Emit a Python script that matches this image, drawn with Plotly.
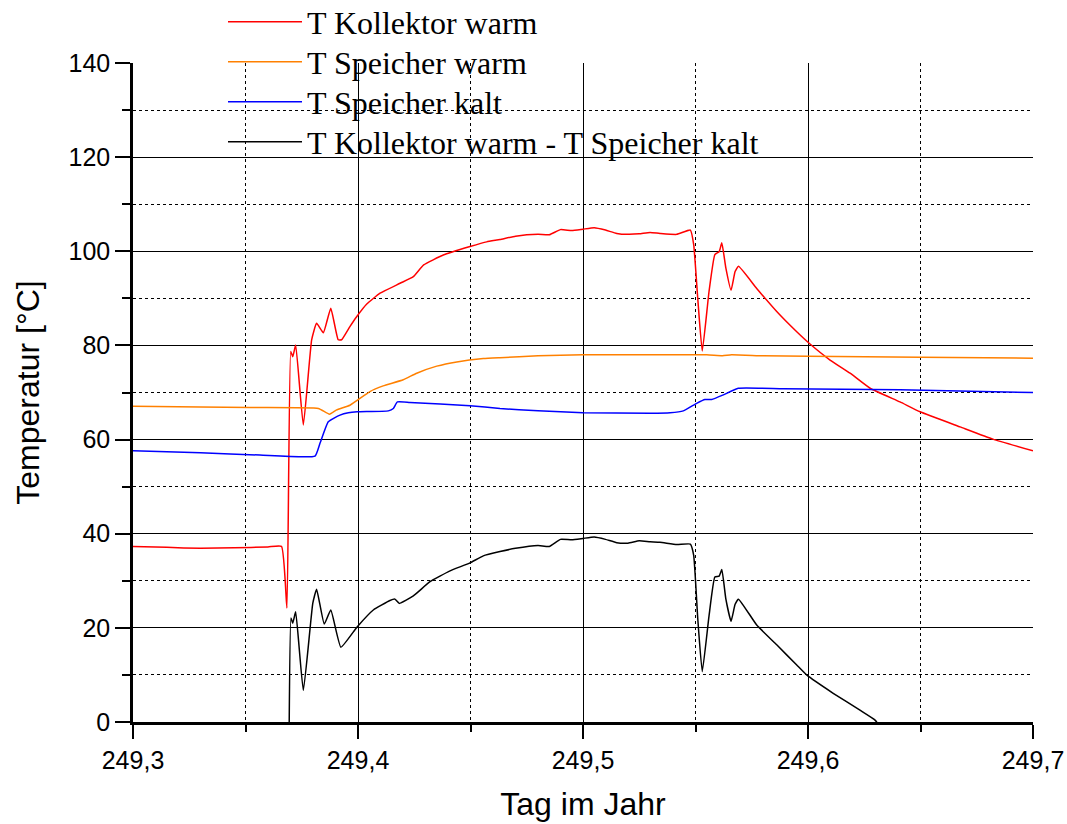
import plotly.graph_objects as go

# ---------------- data ----------------
red_x = [249.3000, 249.3150, 249.3300, 249.3450, 249.3600, 249.3660, 249.3684, 249.3701, 249.3710,
         249.3723, 249.3757, 249.3794, 249.3816, 249.3846, 249.3879, 249.3912, 249.3927, 249.3964,
         249.3994, 249.4039, 249.4098, 249.4187, 249.4246, 249.4292, 249.4379, 249.4498, 249.4572,
         249.4631, 249.4700, 249.4800, 249.4850, 249.4900, 249.4950, 249.5000, 249.5050, 249.5100,
         249.5150, 249.5200, 249.5250, 249.5298, 249.5342, 249.5417, 249.5477, 249.5492, 249.5510,
         249.5530, 249.5560, 249.5586, 249.5605, 249.5617, 249.5635, 249.5658, 249.5676, 249.5691,
         249.5772, 249.5861, 249.5950, 249.6009, 249.6098, 249.6187, 249.6276, 249.6409, 249.6498,
         249.6676, 249.6822, 249.7000]
red_y = [37.3, 37.1, 36.9, 37.0, 37.2, 37.3, 24.2, 78.7, 77.6,
         80.1, 63.1, 81.2, 84.7, 82.7, 87.9, 81.2, 81.2, 84.0,
         86.1, 88.8, 91.1, 93.2, 94.6, 97.1, 99.2, 101.0, 102.0,
         102.5, 103.2, 103.6, 103.5, 104.6, 104.4, 104.7, 105.0, 104.5,
         103.8, 103.6, 103.7, 104.0, 103.8, 103.6, 104.5, 101.4, 90.0,
         78.8, 91.4, 99.3, 99.9, 101.8, 96.4, 91.7, 95.7, 96.8,
         92.1, 87.2, 82.9, 80.3, 76.9, 74.1, 70.9, 68.0, 65.9,
         62.7, 60.1, 57.6]

orange_x = [249.3000, 249.3300, 249.3520, 249.3824, 249.3873, 249.3905, 249.3964, 249.4053, 249.4112,
            249.4201, 249.4261, 249.4350, 249.4439, 249.4557, 249.4631, 249.4800, 249.5000, 249.5300,
            249.5550, 249.5620, 249.5660, 249.5800, 249.6000, 249.6500, 249.7000]
orange_y = [67.1, 66.9, 66.8, 66.6, 65.4, 66.3, 67.3, 70.2, 71.4,
            72.7, 74.1, 75.6, 76.5, 77.2, 77.4, 77.8, 78.0, 78.0,
            78.0, 77.8, 78.0, 77.8, 77.7, 77.5, 77.3]

blue_x = [249.3000, 249.3300, 249.3564, 249.3809, 249.3831, 249.3868, 249.3920, 249.3957, 249.3996,
          249.4135, 249.4157, 249.4175, 249.4231, 249.4498, 249.4631, 249.4800, 249.5000, 249.5298,
          249.5387, 249.5446, 249.5505, 249.5542, 249.5572, 249.5624, 249.5690, 249.5890, 249.6409,
          249.7000]
blue_y = [57.6, 57.2, 56.7, 56.5, 59.2, 63.8, 65.2, 65.7, 65.9,
          66.1, 66.6, 68.0, 67.9, 67.2, 66.6, 66.1, 65.7, 65.6,
          65.7, 66.1, 67.7, 68.5, 68.5, 69.5, 70.9, 70.8, 70.6,
          70.0]

black_x = [249.3694, 249.3702, 249.3710, 249.3723, 249.3757, 249.3799, 249.3816, 249.3850, 249.3879,
           249.3924, 249.3996, 249.4068, 249.4142, 249.4164, 249.4184, 249.4246, 249.4320, 249.4409,
           249.4498, 249.4557, 249.4631, 249.4700, 249.4800, 249.4850, 249.4900, 249.4950, 249.5000,
           249.5050, 249.5100, 249.5150, 249.5200, 249.5250, 249.5298, 249.5342, 249.5417, 249.5477,
           249.5492, 249.5510, 249.5530, 249.5560, 249.5586, 249.5605, 249.5617, 249.5635, 249.5658,
           249.5676, 249.5691, 249.5772, 249.5861, 249.5950, 249.5994, 249.6112, 249.6231, 249.6298,
           249.6320]
black_y = [-2.0, 22.1, 21.0, 23.4, 6.7, 25.2, 28.2, 20.8, 23.8,
           15.9, 20.2, 23.8, 25.8, 26.1, 25.2, 26.8, 29.8, 32.1,
           33.8, 35.3, 36.2, 36.9, 37.5, 37.3, 38.8, 38.7, 39.0,
           39.3, 38.8, 38.1, 38.0, 38.5, 38.3, 38.2, 37.7, 37.8,
           35.4, 22.0, 10.7, 22.5, 30.8, 31.0, 32.4, 26.1, 21.4,
           25.0, 26.1, 20.6, 16.4, 12.1, 10.0, 6.1, 2.5, 0.4,
           -1.0]

series_names = ["T Kollektor warm", "T Speicher warm", "T Speicher kalt",
                "T Kollektor warm - T Speicher kalt"]
series_colors = ["#FF0000", "#FF8000", "#0000FF", "#000000"]

x_ticks = [249.3, 249.4, 249.5, 249.6, 249.7]
y_ticks = [0, 20, 40, 60, 80, 100, 120, 140]

# ---------------- figure ----------------
W, H = 1067, 824
ML, MR, MT, MB = 133, 34, 63, 102
plot_w = W - ML - MR
plot_h = H - MT - MB

fig = go.Figure()
all_x = [red_x, orange_x, blue_x, black_x]
all_y = [red_y, orange_y, blue_y, black_y]
legend_ids = ["legend", "legend2", "legend3", "legend4"]
for xs, ys, nm, col, lg in zip(all_x, all_y, series_names, series_colors, legend_ids):
    fig.add_trace(go.Scatter(x=xs, y=ys, mode="lines", name=nm, legend=lg,
                             line=dict(color=col, width=1.5, shape="spline", smoothing=0.4)))

def px_to_paper_x(px):
    return (px - ML) / plot_w

def px_to_paper_y(py):
    return (H - MB - py) / plot_h

legend_rows_px = [22, 62, 102, 142]
legend_font = dict(family="Liberation Serif", size=32, color="black")
leg_common = dict(bgcolor="rgba(0,0,0,0)", borderwidth=0, font=legend_font,
                  itemwidth=74, xanchor="left", yanchor="middle", tracegroupgap=0)
layout_legends = {}
for lg, py in zip(legend_ids, legend_rows_px):
    layout_legends[lg] = dict(x=px_to_paper_x(223), y=px_to_paper_y(py), **leg_common)

tickfont = dict(family="Liberation Sans", size=25, color="black")
titlefont = dict(family="Liberation Sans", size=32, color="black")
nbsp = "\u00a0"

fig.update_layout(
    width=W, height=H,
    margin=dict(l=ML, r=MR, t=MT, b=MB, pad=0, autoexpand=False),
    paper_bgcolor="white", plot_bgcolor="white",
    separators=",.",
    showlegend=True,
    **layout_legends,
    xaxis=dict(
        range=[249.3, 249.7], tickmode="array", tickvals=x_ticks, tickformat=".1f",
        ticks="outside", ticklen=14, tickwidth=2, tickcolor="black",
        showline=True, linewidth=2.5, linecolor="black", zeroline=False,
        showgrid=True, gridcolor="black", gridwidth=1, automargin=False,
        minor=dict(dtick=0.05, tick0=249.3, ticks="outside", ticklen=7, tickwidth=2,
                   tickcolor="black", showgrid=True, gridcolor="black", gridwidth=1,
                   griddash="dot"),
        tickfont=tickfont,
        title=dict(text="Tag im Jahr", font=titlefont, standoff=20),
    ),
    yaxis=dict(
        range=[0, 140], tickmode="array", tickvals=y_ticks,
        ticks="outside", ticklen=15, tickwidth=2, tickcolor="black",
        showline=True, linewidth=2.5, linecolor="black", zeroline=False,
        showgrid=True, gridcolor="black", gridwidth=1, automargin=False,
        minor=dict(dtick=10, tick0=0, ticks="outside", ticklen=8, tickwidth=2,
                   tickcolor="black", showgrid=True, gridcolor="black", gridwidth=1,
                   griddash="dot"),
        tickfont=tickfont,
        title=dict(text="Temperatur [°C]" + nbsp * 4, font=titlefont, standoff=20),
    ),
    shapes=[dict(type="rect", xref="paper", yref="paper",
                 x0=px_to_paper_x(162), x1=px_to_paper_x(828),
                 y0=px_to_paper_y(187), y1=1.01,
                 fillcolor="white", line=dict(width=0), layer="between")],
)

fig.write_html("out.html", config={"displayModeBar": False},
               post_script="document.body.style.margin='0';document.body.style.padding='0';")
